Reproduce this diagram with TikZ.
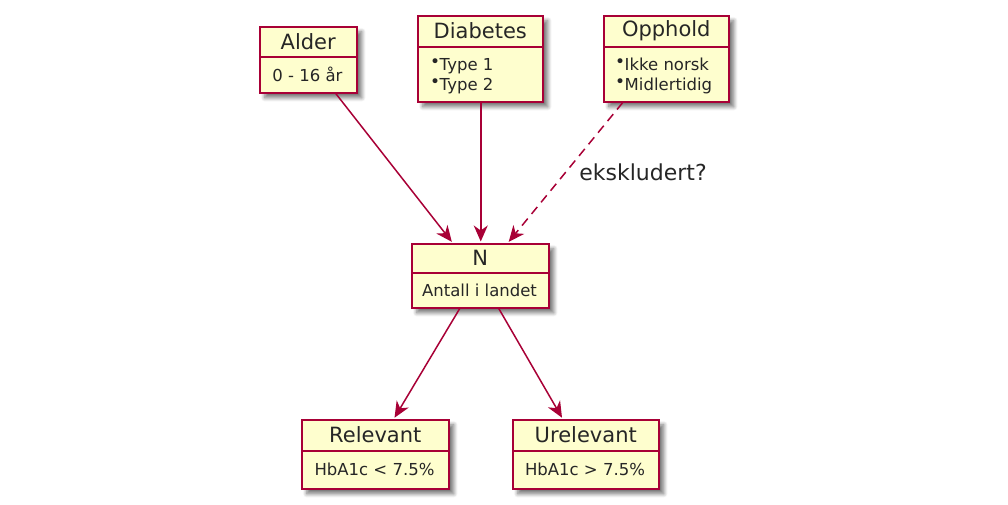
\documentclass[tikz,border=0pt]{standalone}
\usepackage{fontspec}
\setmainfont{DejaVu Sans}
\usetikzlibrary{arrows.meta,shadows.blur}
\definecolor{umlred}{HTML}{A80036}
\definecolor{umlfill}{HTML}{FEFECE}
\newcommand{\bul}{\raisebox{2.8pt}{\fontsize{17}{17}\selectfont\textbullet}\kern-0.5pt}
\tikzset{
  umlbox/.style={draw=umlred, fill=umlfill, line width=1.5pt, inner sep=0pt, anchor=north west,
    blur shadow={shadow xshift=5pt, shadow yshift=-5pt, shadow blur steps=8, shadow opacity=55, shadow blur radius=4pt}},
  sepline/.style={draw=umlred, line width=1.5pt},
  titletext/.style={font=\fontsize{21}{24}\selectfont, text=black!85, inner sep=0pt},
  bodytext/.style={font=\fontsize{16.5}{19}\selectfont, text=black!85, inner sep=0pt, align=left},
  conn/.style={draw=umlred, line width=1.5pt, -{Stealth[length=16pt, width=14pt, inset=5pt]}, shorten >=1.5pt},
  lbl/.style={font=\fontsize{22}{25}\selectfont, text=black!85, inner sep=0pt},
}
\newcommand{\umlclass}[7]{%
  \node[umlbox, minimum width=#4, minimum height=#5] (#1) at (#2,#3) {};
  \draw[sepline] ([yshift=-#6]#1.north west) -- ([yshift=-#6]#1.north east);
  \node[titletext] (#1-t) at ([yshift=-#6/2]#1.north) {#7};
}
\begin{document}
\begin{tikzpicture}[x=1pt,y=-1pt]
\useasboundingbox (0,0) rectangle (1008,504);
\umlclass{alder}{259}{26}{97pt}{66pt}{31pt}{Alder}
\node[bodytext] (alder-b) at (307.5,74.5) {0 - 16 år};
\umlclass{diab}{417}{15}{125pt}{86pt}{32pt}{Diabetes}
\node[bodytext, anchor=west] (diab-b) at (430,76) {\bul Type 1\\[1pt]\bul Type 2};
\umlclass{opph}{603}{15}{125pt}{86pt}{32pt}{Opphold}
\node[bodytext, anchor=west] (opph-b) at (615,76) {\bul Ikke norsk\\[1pt]\bul Midlertidig};
\umlclass{n}{411}{243}{137pt}{64pt}{30pt}{N}
\node[bodytext] (n-b) at (479.5,290) {Antall i landet};
\umlclass{rel}{301}{419}{147pt}{69pt}{32pt}{Relevant}
\node[bodytext] (rel-b) at (374.5,469.5) {HbA1c < 7.5\%};
\umlclass{urel}{512}{419}{146pt}{69pt}{32pt}{Urelevant}
\node[bodytext] (urel-b) at (585,469.5) {HbA1c > 7.5\%};
\draw[conn] ([xshift=27.5pt]alder.south) -- ([xshift=-27.5pt]n.north);
\draw[conn] ([xshift=0.5pt]diab.south) -- ([xshift=0.5pt]n.north);
\draw[conn, dashed, dash pattern=on 9pt off 6pt] ([xshift=-43.5pt]opph.south) -- ([xshift=27.5pt]n.north);
\node[lbl] (ex) at (643,172) {ekskludert?};
\draw[conn] ([xshift=-20.5pt]n.south) -- ([xshift=18.5pt]rel.north);
\draw[conn] ([xshift=18.5pt]n.south) -- ([xshift=-23pt]urel.north);
\end{tikzpicture}
\end{document}
